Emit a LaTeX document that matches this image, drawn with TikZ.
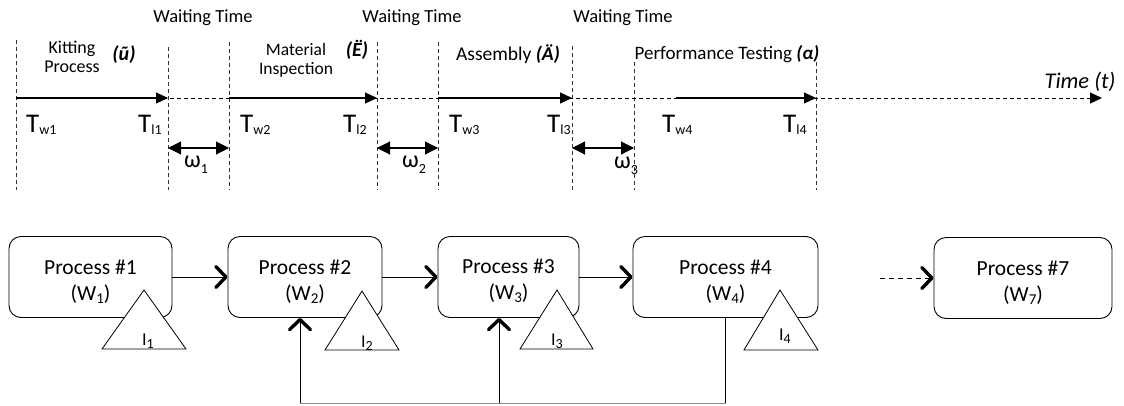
\documentclass[tikz,border=0pt]{standalone}
\usepackage{fontspec}
\setmainfont{Carlito}
\usetikzlibrary{arrows.meta}
% lowered subscript in a fixed size: [drop]{size}{text}
\newcommand\subtx[3][3pt]{\raisebox{-#1}{\fontsize{#2}{#2}\selectfont #3}}
\tikzset{
  txt/.style={inner sep=0pt, font=\fontsize{18.5}{20}\selectfont},
  instant/.style={inner sep=0pt, anchor=base west, font=\fontsize{27}{28}\selectfont},
  omega/.style={inner sep=0pt, anchor=base west, font=\fontsize{24}{26}\selectfont},
  stocklbl/.style={inner sep=0pt, anchor=base west, font=\fontsize{18}{20}\selectfont},
  guide/.style={dash pattern=on 4pt off 3pt, line width=0.7pt, draw=black!80},
  axis/.style={dash pattern=on 4pt off 3pt, line width=0.9pt, -{Triangle[length=12pt,width=11pt]}},
  span/.style={line width=1.1pt, -{Triangle[length=12pt,width=11pt]}},
  gap/.style={line width=1.1pt, {Triangle[length=13pt,width=13pt]}-{Triangle[length=13pt,width=13pt]}},
  procbox/.style={draw, line width=0.9pt, rounded corners=12pt, align=center,
    font=\fontsize{21.5}{26}\selectfont, minimum height=81pt},
  flow/.style={line width=1pt, -{Straight Barb[length=10pt,width=21pt,line width=3.4pt 0 1,round]}},
  stock/.style={draw, line width=0.8pt, fill=white},
}
\begin{document}
\begin{tikzpicture}[x=1pt, y=-1pt]
\useasboundingbox (0,0) rectangle (1124,405);

% ---------- time line ----------
\foreach \n/\x/\t in {0/16/40, 1/168/47, 2/229/42, 3/377/42, 4/438/42, 5/572/46, 6/634/62, 7/816/62}{
  \coordinate (top\n) at (\x,\t);
  \coordinate (ax\n) at (\x,98);
  \coordinate (bot\n) at (\x,190);
  \draw[guide] (top\n) -- (bot\n);
}
\coordinate (axend) at (1102,98);
\coordinate (startfour) at (676,98);
\draw[axis] (ax0) -- (axend);
\draw[span] (ax0) -- (ax1);
\draw[span] (ax2) -- (ax3);
\draw[span] (ax4) -- (ax5);
\draw[span] (startfour) -- (ax7);

% waiting intervals
\draw[gap] (168,148) coordinate (g1a) -- (229,148) coordinate (g1b);
\draw[gap] (377,148) coordinate (g2a) -- (438,148) coordinate (g2b);
\draw[gap] (572,148) coordinate (g3a) -- (634,148) coordinate (g3b);
\node[omega] (om1) at (184,167) {ω\subtx[6pt]{14}{1}};
\node[omega] (om2) at (402,167) {ω\subtx[6pt]{14}{2}};
\node[omega] (om3) at (614,168) {ω\subtx[6pt]{14}{3}};

% stage titles
\node[txt] (wt1) at (203,18) {Waiting Time};
\node[txt] (wt2) at (412,18) {Waiting Time};
\node[txt] (wt3) at (623,18) {Waiting Time};
\node[txt, align=center, font=\fontsize{18}{19}\selectfont] (kit) at (72,57) {Kitting\\Process};
\node[txt, font=\bfseries\itshape\fontsize{20}{22}\selectfont] (kitsym) at (124,55) {(ũ)};
\node[txt, align=center, font=\fontsize{17.5}{19}\selectfont] (mat) at (296,60) {Material\\Inspection};
\node[txt, font=\bfseries\itshape\fontsize{20}{22}\selectfont] (matsym) at (357,50) {(Ë)};
\node[txt, font=\fontsize{19.5}{22}\selectfont] (asm) at (508,54) {Assembly \textbf{\textit{(Ä)}}};
\node[txt, font=\fontsize{19}{22}\selectfont] (perf) at (727,54) {Performance Testing \textbf{\textit{(α)}}};
\node[txt, font=\itshape\fontsize{22.5}{24}\selectfont] (time) at (1080,82) {Time (t)};

% start / end instants
\node[instant] (tw1) at (26,132) {T\subtx[2pt]{14}{w1}};
\node[instant] (tl1) at (138,132) {T\subtx[2pt]{14}{l1}};
\node[instant] (tw2) at (240,132) {T\subtx[2pt]{14}{w2}};
\node[instant] (tl2) at (343,132) {T\subtx[2pt]{14}{l2}};
\node[instant] (tw3) at (449,132) {T\subtx[2pt]{14}{w3}};
\node[instant] (tl3) at (547,132) {T\subtx[2pt]{14}{l3}};
\node[instant] (tw4) at (662,132) {T\subtx[2pt]{14}{w4}};
\node[instant] (tl4) at (783,132) {T\subtx[2pt]{14}{l4}};

% ---------- process chain ----------
\node[procbox, minimum width=163pt] (p1) at (90.5,277) {\rule{0pt}{23pt}Process \#1\\(W\subtx[3pt]{15}{1})};
\node[procbox, minimum width=154pt] (p2) at (305,277) {\rule{0pt}{23pt}Process \#2\\(W\subtx[3pt]{15}{2})};
\node[procbox, minimum width=141pt] (p3) at (508.5,277) {\rule{0pt}{23pt}Process \#3\\(W\subtx[3pt]{15}{3})};
\node[procbox, minimum width=185pt] (p4) at (725.5,277) {\rule{0pt}{23pt}Process \#4\\(W\subtx[3pt]{15}{4})};
\node[procbox, minimum width=178pt] (p7) at (1023,278) {\rule{0pt}{23pt}Process \#7\\(W\subtx[3pt]{15}{7})};

\draw[flow] (p1) -- (p2);
\draw[flow] (p2) -- (p3);
\draw[flow] (p3) -- (p4);
\coordinate (more) at (880,278);
\draw[flow, dash pattern=on 5pt off 4pt] (more) -- (p7);

% inventories
\draw[stock] (144,290) coordinate (i1t) -- (102,349) -- (186,349) -- cycle;
\draw[stock] (362,291) coordinate (i2t) -- (325,350) -- (399,350) -- cycle;
\draw[stock] (557,290) coordinate (i3t) -- (520,349) -- (593,349) -- cycle;
\draw[stock] (780,290) coordinate (i4t) -- (744,350) -- (818,350) -- cycle;
\node[stocklbl] (i1) at (142,345) {I\subtx[3pt]{14}{1}};
\node[stocklbl] (i2) at (361,347) {I\subtx[3pt]{14}{2}};
\node[stocklbl] (i3) at (551,345) {I\subtx[3pt]{14}{3}};
\node[stocklbl] (i4) at (779,340) {I\subtx[3pt]{14}{4}};

% feedback from process 4
\coordinate (fb4) at (p4.south);
\coordinate (fbr) at (p4.south |- 0,403);
\coordinate (fb2) at ([xshift=-5pt]p2.south);
\coordinate (fb3) at ([xshift=-9.5pt]p3.south);
\coordinate (fbl) at (fb2 |- 0,403);
\coordinate (fbm) at (fb3 |- 0,403);
\draw[line width=1pt] (fb4) -- (fbr);
\draw[line width=1pt, draw=black!45] (fbr) -- (fbl);
\draw[flow] (fbl) -- (fb2);
\draw[flow] (fbm) -- (fb3);
\end{tikzpicture}
\end{document}
